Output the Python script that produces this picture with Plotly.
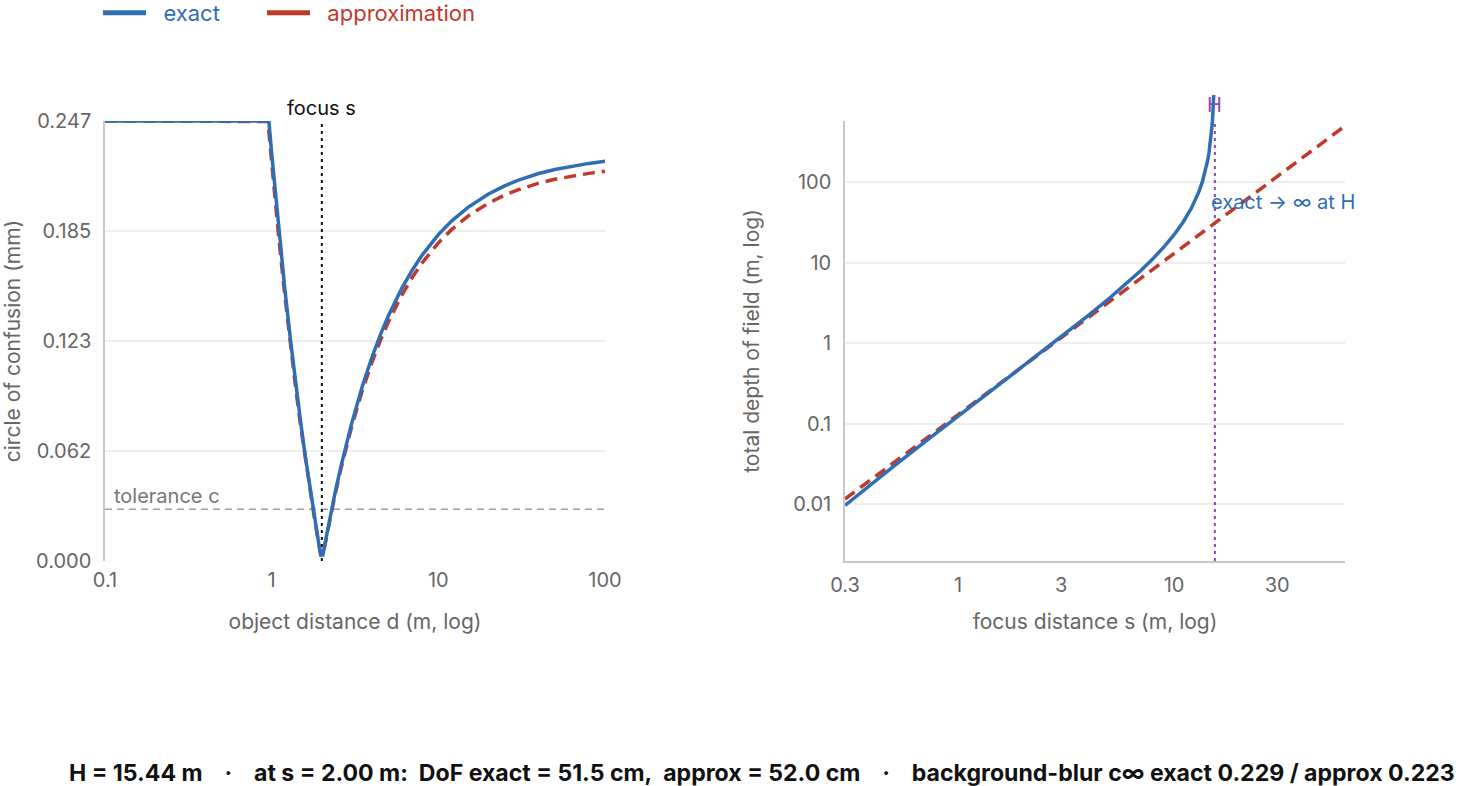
import numpy as np
import plotly.graph_objects as go

# ---------------- data ----------------
# Left panel: circle of confusion (mm) vs object distance d (m), focus s = 2 m
d_m = [0.1, 0.2, 0.4, 0.6, 0.8, 0.9, 0.95, 0.962, 1.0, 1.1, 1.2, 1.3, 1.4, 1.5,
       1.6, 1.7, 1.8, 1.9, 1.97, 2.03, 2.1, 2.2, 2.4, 2.6, 2.8, 3, 3.5, 4, 4.5,
       5, 6, 7, 8, 10, 12, 15, 20, 25, 30, 40, 50, 65, 80, 100]
coc_exact = [0.247, 0.247, 0.247, 0.247, 0.247, 0.247, 0.247, 0.247, 0.2289,
             0.1873, 0.1526, 0.1233, 0.0981, 0.0763, 0.0572, 0.0404, 0.0254,
             0.0121, 0.0035, 0.0034, 0.0109, 0.0208, 0.0382, 0.0528, 0.0654,
             0.0763, 0.0981, 0.1145, 0.1272, 0.1374, 0.1526, 0.1635, 0.1717,
             0.1832, 0.1908, 0.1984, 0.2060, 0.2106, 0.2137, 0.2175, 0.2198,
             0.2219, 0.2232, 0.2244]
coc_approx = [0.247, 0.247, 0.247, 0.247, 0.247, 0.247, 0.2467, 0.2409, 0.2232,
              0.1826, 0.1488, 0.1202, 0.0957, 0.0744, 0.0558, 0.0394, 0.0248,
              0.0118, 0.0034, 0.0033, 0.0106, 0.0203, 0.0372, 0.0515, 0.0638,
              0.0744, 0.0957, 0.1116, 0.1240, 0.1339, 0.1488, 0.1594, 0.1674,
              0.1786, 0.1860, 0.1935, 0.2009, 0.2054, 0.2083, 0.2121, 0.2143,
              0.2164, 0.2176, 0.2188]

# Right panel: total depth of field (m) vs focus distance s (m)
s_m = [0.3, 0.4, 0.5, 0.7, 1, 1.5, 2, 3, 4, 5, 6, 7, 8, 9, 10, 11, 12, 13,
       13.5, 14, 14.3, 14.5, 14.7, 14.8, 14.9, 15.0, 15.1, 15.2, 15.25]
dof_exact = [0.00975, 0.0182, 0.0293, 0.0592, 0.1239, 0.2851, 0.5150, 1.1936,
             2.1974, 3.5864, 5.4528, 7.9388, 11.268, 15.809, 22.203, 31.676,
             46.882, 74.822, 99.70, 141.90, 185.0, 228.98, 296.6, 346.2, 414.0,
             512.5, 668.1, 951.3, 1202.4]
s_approx = [0.3, 1, 3, 10, 30, 61.78]
dof_approx = [0.01169, 0.1299, 1.169, 12.99, 116.9, 495.9]

focus_s = 2.0          # m
tolerance_c = 0.029    # mm
hyperfocal_H = 15.44   # m
coc_max = 0.247        # mm

left_yticks = [0, 0.06175, 0.1235, 0.18525, 0.247]
left_yticktext = ["0.000", "0.062", "0.123", "0.185", "0.247"]
left_xticks = [0.1, 1, 10, 100]
left_xticktext = ["0.1", "1", "10", "100"]
right_xticks = [0.3, 1, 3, 10, 30]
right_xticktext = ["0.3", "1", "3", "10", "30"]
right_yticks = [0.01, 0.1, 1, 10, 100]
right_yticktext = ["0.01", "0.1", "1", "10", "100"]

NB = "\u00a0"
summary = (f"H = 15.44 m{NB*4}·{NB*4}at s = 2.00 m:{NB*2}DoF exact = 51.5 cm,{NB*2}"
           f"approx = 52.0 cm{NB*4}·{NB*4}background-blur c∞ exact 0.229 / approx 0.223")

# ---------------- styling ----------------
W, HGT = 1484, 786
BLUE = "#2f6db5"
RED = "#c0392b"
PURPLE = "#8e44ad"
GRID = "#eceef2"
AXLINE = "#c8c8c8"
TXT = "#666666"
FONT = "Inter, Roboto, 'Noto Sans', sans-serif"


def px_x(p):
    return p / W


def px_y(p):
    return 1 - p / HGT


PLOT_TOP, PLOT_BOT = 121, 561
right_ylog = [-2.701, 2.757]
right_yr = [10 ** right_ylog[0], 10 ** right_ylog[1]]
# an overlay for the exact DoF curve so it may run past the top, like the original
dec_per_px = (right_ylog[1] - right_ylog[0]) / (PLOT_BOT - PLOT_TOP)
OVER_TOP = 85
right_ylog_over = [right_ylog[0], right_ylog[0] + dec_per_px * (PLOT_BOT - OVER_TOP)]

fig = go.Figure()

# legend-only entries (solid samples)
fig.add_trace(go.Scatter(x=[None], y=[None], mode="lines",
                         line=dict(color=BLUE, width=5),
                         name=f"{NB}{NB}<span style='color:{BLUE}'>exact</span>" + NB * 6))
fig.add_trace(go.Scatter(x=[None], y=[None], mode="lines",
                         line=dict(color=RED, width=5),
                         name=f"{NB}{NB}<span style='color:{RED}'>approximation</span>"))

# left panel reference lines
fig.add_trace(go.Scatter(x=[d_m[0], d_m[-1]], y=[tolerance_c, tolerance_c], mode="lines",
                         line=dict(color="#a0a0a0", width=1.5, dash="7px,5px"),
                         showlegend=False, hoverinfo="skip", xaxis="x", yaxis="y"))
fig.add_trace(go.Scatter(x=[focus_s, focus_s], y=[0, coc_max], mode="lines",
                         line=dict(color="#111111", width=2, dash="3px,4px"),
                         showlegend=False, hoverinfo="skip", xaxis="x", yaxis="y"))
# left panel curves
fig.add_trace(go.Scatter(x=d_m, y=coc_approx, mode="lines",
                         line=dict(color=RED, width=3.5, dash="12px,7px"),
                         showlegend=False, xaxis="x", yaxis="y"))
fig.add_trace(go.Scatter(x=d_m, y=coc_exact, mode="lines",
                         line=dict(color=BLUE, width=3.5),
                         showlegend=False, xaxis="x", yaxis="y"))

# right panel reference line at H
fig.add_trace(go.Scatter(x=[hyperfocal_H, hyperfocal_H], y=right_yr, mode="lines",
                         line=dict(color=PURPLE, width=2, dash="3px,4px"),
                         showlegend=False, hoverinfo="skip", xaxis="x2", yaxis="y2"))
fig.add_trace(go.Scatter(x=s_approx, y=dof_approx, mode="lines",
                         line=dict(color=RED, width=3.5, dash="12px,7px"),
                         showlegend=False, xaxis="x2", yaxis="y2"))
fig.add_trace(go.Scatter(x=s_m, y=dof_exact, mode="lines",
                         line=dict(color=BLUE, width=3.5),
                         showlegend=False, xaxis="x3", yaxis="y3"))

tick_font = dict(family=FONT, size=20, color=TXT)
title_font = dict(family=FONT, size=21, color=TXT)

fig.update_layout(
    width=W, height=HGT,
    margin=dict(l=0, r=0, t=0, b=0, autoexpand=False),
    paper_bgcolor="white", plot_bgcolor="rgba(0,0,0,0)",
    font=dict(family=FONT, size=20, color=TXT),
    showlegend=True,
    legend=dict(orientation="h", x=px_x(98), xanchor="left", y=px_y(-8), yanchor="top",
                font=dict(family=FONT, size=22), itemwidth=43,
                bgcolor="rgba(0,0,0,0)"),
    xaxis=dict(type="log", domain=[px_x(105), px_x(605)], range=[-1, 2],
               tickvals=left_xticks, ticktext=left_xticktext, showgrid=False,
               showline=False, zeroline=False, ticks="", tickfont=tick_font,
               automargin=False, ticklabelstandoff=5,
               title=dict(text="object distance d (m, log)", font=title_font, standoff=23),
               anchor="y"),
    yaxis=dict(domain=[px_y(PLOT_BOT), px_y(PLOT_TOP)], range=[0, coc_max],
               tickvals=left_yticks, ticktext=left_yticktext, showgrid=True,
               gridcolor=GRID, gridwidth=1.5, showline=True, linecolor=AXLINE,
               linewidth=1.5, zeroline=False, ticks="", tickfont=tick_font,
               ticklabelstandoff=8, automargin=False,
               title=dict(text="circle of confusion (mm)", font=title_font, standoff=12),
               anchor="x"),
    xaxis2=dict(type="log", domain=[px_x(845), px_x(1345)],
                range=[np.log10(s_approx[0]), np.log10(s_approx[-1])],
                tickvals=right_xticks, ticktext=right_xticktext, showgrid=False,
                showline=True, linecolor=AXLINE, linewidth=1.5, zeroline=False,
                ticks="", tickfont=tick_font, automargin=False, ticklabelstandoff=5,
                title=dict(text="focus distance s (m, log)", font=title_font, standoff=19),
                anchor="y2"),
    yaxis2=dict(type="log", domain=[px_y(PLOT_BOT), px_y(PLOT_TOP)], range=right_ylog,
                tickvals=right_yticks, ticktext=right_yticktext, showgrid=True,
                gridcolor=GRID, gridwidth=1.5, showline=True, linecolor=AXLINE,
                linewidth=1.5, zeroline=False, ticks="", tickfont=tick_font,
                ticklabelstandoff=8, automargin=False,
                title=dict(text="total depth of field (m, log)", font=title_font, standoff=28),
                anchor="x2"),
    xaxis3=dict(type="log", domain=[px_x(845), px_x(1345)],
                range=[np.log10(s_approx[0]), np.log10(s_approx[-1])],
                visible=False, anchor="y3"),
    yaxis3=dict(type="log", domain=[px_y(PLOT_BOT), px_y(OVER_TOP)], range=right_ylog_over,
                visible=False, anchor="x3"),
)

fig.add_annotation(text="focus s", x=np.log10(focus_s), xref="x", y=px_y(108), yref="paper",
                   showarrow=False, font=dict(family=FONT, size=20, color="#111111"),
                   xanchor="center", yanchor="middle")
fig.add_annotation(text="tolerance c", x=px_x(112), xref="paper", y=px_y(496), yref="paper",
                   showarrow=False, font=dict(family=FONT, size=20, color="#777777"),
                   xanchor="left", yanchor="middle")
fig.add_annotation(text="H", x=np.log10(hyperfocal_H), xref="x2", y=px_y(105), yref="paper",
                   showarrow=False, font=dict(family=FONT, size=20, color=PURPLE),
                   xanchor="center", yanchor="middle")
fig.add_annotation(text="exact → ∞ at H", x=np.log10(hyperfocal_H), xref="x2",
                   y=px_y(202), yref="paper", showarrow=False,
                   font=dict(family=FONT, size=20, color=BLUE),
                   xanchor="left", yanchor="middle", xshift=-6)
fig.add_annotation(text=f"<b>{summary}</b>", x=px_x(67), xref="paper", y=px_y(773), yref="paper",
                   showarrow=False, font=dict(family=FONT, size=23.1, color="#111111"),
                   xanchor="left", yanchor="middle")

fig.write_html("out.html")
